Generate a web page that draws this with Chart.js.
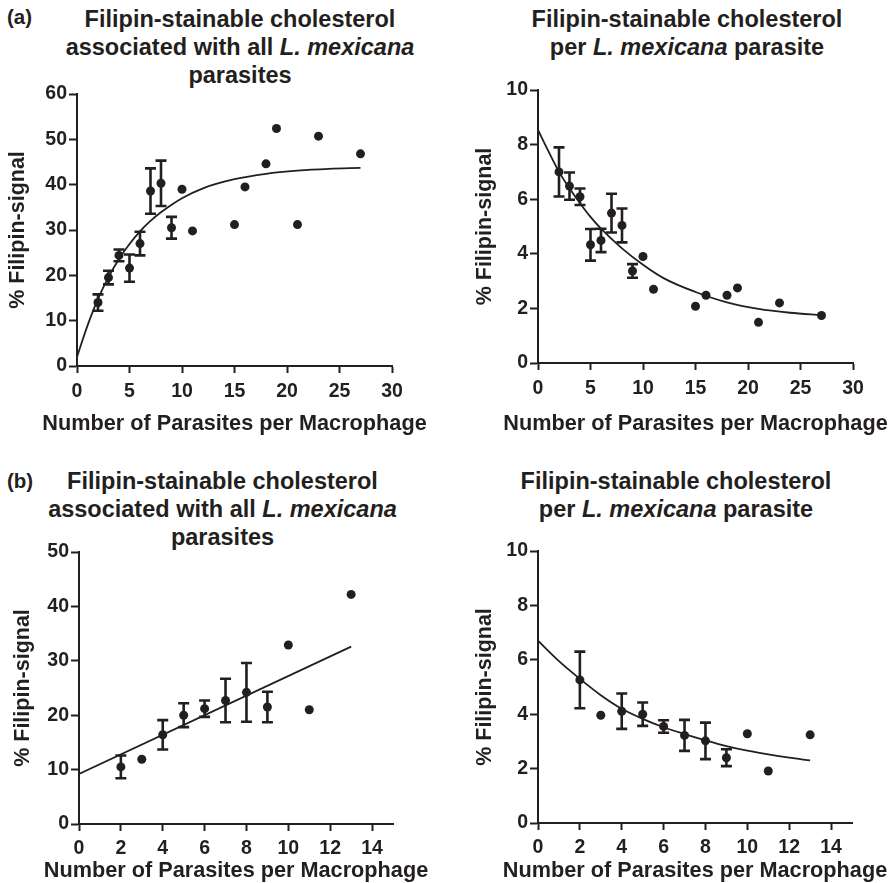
<!DOCTYPE html>
<html><head><meta charset="utf-8">
<script src="https://cdn.jsdelivr.net/npm/chart.js@4.4.1/dist/chart.umd.min.js"></script>
<style>
html,body{margin:0;padding:0;background:#fff;}
body{width:893px;height:883px;position:relative;overflow:hidden;font-family:"Liberation Sans",Arial,sans-serif;color:#231f20;}
canvas{position:absolute;}
.ttl{position:absolute;width:460px;text-align:center;font-weight:bold;font-size:23.5px;line-height:28px;white-space:nowrap;}
.lab{position:absolute;font-weight:bold;font-size:20.5px;line-height:28px;}
.xt{position:absolute;width:460px;text-align:center;font-weight:bold;font-size:21.7px;line-height:26px;white-space:nowrap;}
</style></head><body>
<div class="lab" style="left:7px;top:3px;">(a)</div>
<div class="ttl" style="left:10px;top:5px;">Filipin-stainable cholesterol<br>associated with all <i>L. mexicana</i><br>parasites</div>
<div class="ttl" style="left:457px;top:5px;">Filipin-stainable cholesterol<br>per <i>L. mexicana</i> parasite</div>
<div class="lab" style="left:7px;top:467px;">(b)</div>
<div class="ttl" style="left:-7.5px;top:467px;">Filipin-stainable cholesterol<br>associated with all <i>L. mexicana</i><br>parasites</div>
<div class="ttl" style="left:446px;top:467px;">Filipin-stainable cholesterol<br>per <i>L. mexicana</i> parasite</div>

<canvas id="c1" width="440" height="364" style="left:0px;top:80px;"></canvas>
<canvas id="c2" width="443" height="368" style="left:450px;top:76px;"></canvas>
<canvas id="c3" width="440" height="345" style="left:0px;top:538px;"></canvas>
<canvas id="c4" width="443" height="346" style="left:450px;top:537px;"></canvas>

<div class="xt" id="xt1" style="left:4.5px;top:410px;"></div>
<div class="xt" id="xt2" style="left:465.5px;top:410px;"></div>
<div class="xt" id="xt3" style="left:6px;top:857px;"></div>
<div class="xt" id="xt4" style="left:465px;top:857px;"></div>

<script>
// ---- Data (a) left: all parasites ----
const xA = [2,3,4,5,6,7,8,9,10,11,15,16,18,19,21,23,27];
const yA1 = [14.0,19.5,24.4,21.6,27.0,38.6,40.3,30.5,39.0,29.8,31.2,39.5,44.6,52.4,31.2,50.7,46.8];
const eA1 = [1.8,1.5,1.3,3.0,2.6,5.0,5.0,2.4,0,0,0,0,0,0,0,0,0];
const fitXA1 = [0,1,2,3,4,5,6,7,8,10,12,15,18,21,24,27];
const fitYA1 = [2.0,8.9,14.8,19.6,23.6,26.9,29.7,32.0,33.9,37.0,39.2,41.2,42.4,43.1,43.5,43.7];
// ---- Data (a) right: per parasite ----
const yA2 = [7.0,6.48,6.09,4.33,4.49,5.49,5.04,3.37,3.9,2.7,2.08,2.48,2.48,2.75,1.49,2.2,1.74];
const eA2 = [0.9,0.5,0.3,0.58,0.43,0.71,0.62,0.25,0,0,0,0,0,0,0,0,0];
const fitXA2 = [0,1,2,3,4,5,6,8,10,12,15,18,21,24,27];
const fitYA2 = [8.54,7.75,7.0,6.4,5.85,5.35,4.92,4.2,3.6,3.1,2.6,2.22,1.98,1.84,1.75];
// ---- Data (b) ----
const xB = [2,3,4,5,6,7,8,9,10,11,13];
const yB1 = [10.5,11.9,16.4,20.0,21.2,22.7,24.2,21.5,32.9,21.0,42.2];
const eB1 = [2.1,0,2.7,2.2,1.5,4.0,5.4,2.8,0,0,0];
const fitXB1 = [0,13];
const fitYB1 = [9.2,32.6];
const yB2 = [5.26,3.96,4.11,4.0,3.55,3.22,3.02,2.4,3.28,1.91,3.24];
const eB2 = [1.04,0,0.65,0.43,0.23,0.57,0.67,0.31,0,0,0];
const fitXB2 = [0,1,2,3,4,5,6,7,8,9,10,11,12,13];
const fitYB2 = [6.7,5.95,5.3,4.7,4.2,3.83,3.52,3.27,3.04,2.83,2.66,2.52,2.4,2.3];
// ---- Tick labels ----
const xTicksA = [0,5,10,15,20,25,30];
const xTicksB = [0,2,4,6,8,10,12,14];

const xTitle = 'Number of Parasites per Macrophage';
const yTitle = '% Filipin-signal';
['xt1','xt2','xt3','xt4'].forEach(id=>{ document.getElementById(id).textContent = xTitle; });

const C = '#231f20';
const F = '"Liberation Sans", Arial, sans-serif';

const pts = (xs, ys) => xs.map((x,i)=>({x:x, y:ys[i]}));

const errPlugin = { id:'errbars', afterDatasetsDraw(chart){
  const ctx = chart.ctx; const ys = chart.scales.y;
  chart.data.datasets.forEach((ds,i)=>{
    if(!ds.errors) return;
    const meta = chart.getDatasetMeta(i);
    ctx.save(); ctx.strokeStyle=C; ctx.lineWidth=2.6; ctx.lineCap='butt';
    meta.data.forEach((pt,j)=>{
      const e = ds.errors[j]; if(!e) return;
      const v = ds.data[j].y;
      const yt = ys.getPixelForValue(v+e), yb = ys.getPixelForValue(v-e);
      const x = pt.x;
      ctx.beginPath();
      ctx.moveTo(x,yt); ctx.lineTo(x,yb);
      ctx.moveTo(x-5.5,yt); ctx.lineTo(x+5.5,yt);
      ctx.moveTo(x-5.5,yb); ctx.lineTo(x+5.5,yb);
      ctx.stroke();
    });
    ctx.restore();
  });
}};

function make(id, o){
  const xs = {
    type:'linear', min:0, max:o.xmax,
    ticks:{color:C, font:{family:F,size:19.5,weight:'bold'}, padding:o.xtickPad, maxRotation:0, autoSkip:false},
    grid:{drawOnChartArea:false, drawTicks:true, tickLength:7, tickWidth:2, color:C},
    border:{display:true, color:C, width:2},
    title:{display:false},
    afterBuildTicks:(s)=>{ s.ticks = o.xticks.map(v=>({value:v})); },
    afterFit:(s)=>{s.height=o.xh;}
  };
  const ysc = {
    type:'linear', min:0, max:o.ymax,
    ticks:{stepSize:o.ystep, color:C, font:{family:F,size:19.5,weight:'bold'}, padding:2},
    grid:{drawOnChartArea:false, drawTicks:true, tickLength:8, tickWidth:2, color:C},
    border:{display:true, color:C, width:2},
    title:{display:true, text:yTitle, color:C, font:{family:F,size:21.5,weight:'bold'}, padding:{top:o.ytitlePad,bottom:0}},
    afterFit:(s)=>{s.width=o.yw;}
  };
  new Chart(document.getElementById(id), {
    type:'scatter',
    data:{datasets:[
      {data:pts(o.fx,o.fy), showLine:true, borderColor:C, borderWidth:1.8, pointRadius:0, fill:false, cubicInterpolationMode:'monotone'},
      {data:pts(o.x,o.y), errors:o.e, backgroundColor:C, borderColor:C, pointRadius:4.5, borderWidth:0}
    ]},
    options:{
      responsive:false, animation:false, events:[],
      layout:{padding:{top:14,right:o.rpad,left:0,bottom:0}},
      plugins:{legend:{display:false}, tooltip:{enabled:false}},
      scales:{x:xs, y:ysc}
    },
    plugins:[errPlugin]
  });
}

make('c1',{x:xA,y:yA1,e:eA1,fx:fitXA1,fy:fitYA1,xmax:30,xticks:xTicksA,ymax:60,ystep:10,yw:77,xh:78,rpad:48,xtickPad:7,ytitlePad:5.5});
make('c2',{x:xA,y:yA2,e:eA2,fx:fitXA2,fy:fitYA2,xmax:30,xticks:xTicksA,ymax:10,ystep:2,yw:88,xh:81,rpad:40,xtickPad:7,ytitlePad:22});
make('c3',{x:xB,y:yB1,e:eB1,fx:fitXB1,fy:fitYB1,xmax:15,xticks:xTicksB,ymax:50,ystep:10,yw:79,xh:59,rpad:47,xtickPad:6,ytitlePad:10});
make('c4',{x:xB,y:yB2,e:eB2,fx:fitXB2,fy:fitYB2,xmax:15,xticks:xTicksB,ymax:10,ystep:2,yw:88,xh:60,rpad:41,xtickPad:6,ytitlePad:22});
</script>
</body></html>
